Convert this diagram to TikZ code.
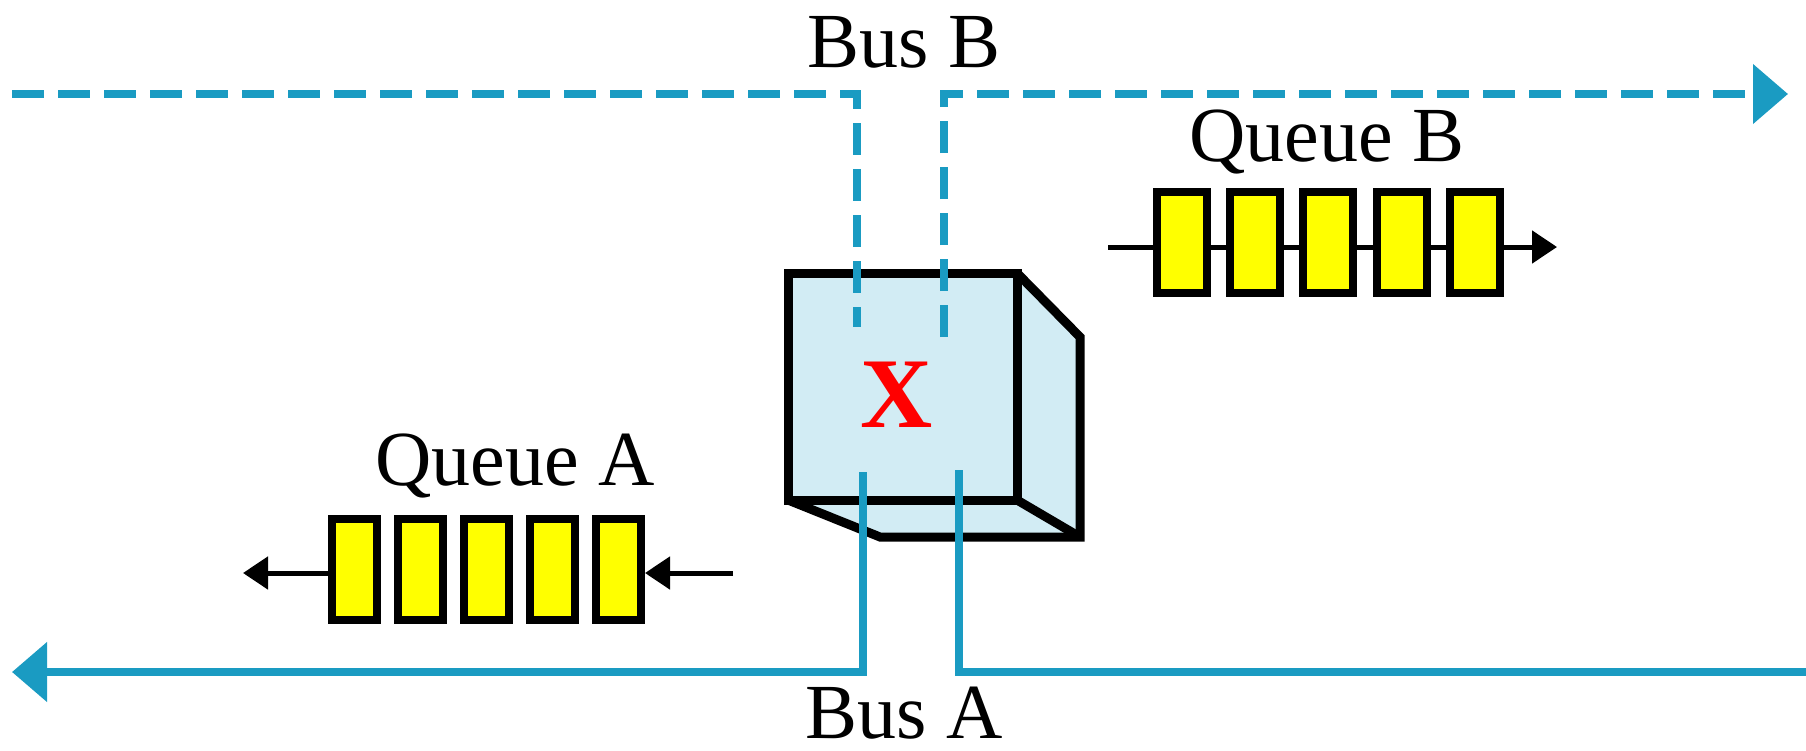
\documentclass[tikz,border=0pt]{standalone}
\usepackage{fontspec}
\setmainfont{Liberation Serif}
\usetikzlibrary{arrows.meta}
\definecolor{busblue}{HTML}{1A9BC2}
\definecolor{cubefill}{HTML}{D2ECF4}
\definecolor{qyellow}{HTML}{FFFF00}
\tikzset{
  lbl/.style={font=\fontsize{78}{86}\selectfont, inner sep=0pt},
  qbox/.style={draw=black, line width=8pt, fill=qyellow, inner sep=0pt, minimum height=101pt},
  qboxB/.style={qbox, minimum width=50pt},
  qboxA/.style={qbox, minimum width=45pt},
  busline/.style={draw=busblue, line width=8pt},
  busdash/.style={busline, dash pattern=on 32pt off 14pt},
  bushead/.style={-{Triangle[length=35pt,width=58pt]}},
  qline/.style={draw=black, line width=5pt},
  qhead/.style={-{Triangle[length=25pt,width=32pt]}},
  cubeedge/.style={draw=black, line width=9pt, line join=miter},
}
\begin{document}
\begin{tikzpicture}[x=1pt,y=-1pt]
\useasboundingbox (0,0) rectangle (1806,750);
% cube
\coordinate (c1) at (788,273);
\coordinate (c2) at (1017,273);
\coordinate (c3) at (1017,500);
\coordinate (c4) at (788,500);
\coordinate (c5) at (1080,337);
\coordinate (c6) at (1080,537);
\coordinate (c7) at (880,537);
\fill[cubefill] (c1) -- (c2) -- (c5) -- (c6) -- (c7) -- (c4) -- cycle;
\draw[cubeedge] (c1) -- (c2) -- (c3) -- (c4) -- cycle;
\draw[cubeedge] (c2) -- (c5) -- (c6) -- (c7) -- (c4);
\draw[cubeedge] (c3) -- (c6);
\node[text=red, font=\fontsize{100}{110}\selectfont\bfseries, inner sep=0pt] (x) at (897,395) {X};
% labels
\node[lbl] (busB) at (904,42) {Bus B};
\node[lbl] (busA) at (904,713) {Bus A};
\node[lbl] (qBlabel) at (1327,142) {Queue B};
\node[lbl] (qAlabel) at (515,466) {Queue A};
% Bus B (dashed)
\coordinate (bBstart) at (12,94);
\coordinate (bBc1) at (857,94);
\coordinate (bBin1) at (857,327);
\coordinate (bBin2) at (944,337);
\coordinate (bBc2) at (944,94);
\coordinate (bBend) at (1788,94);
\draw[busdash] (bBstart) -- (bBc1) -- (bBin1);
\draw[busdash, bushead] (bBin2) -- (bBc2) -- (bBend);
% Bus A (solid)
\coordinate (bAin1) at (863,472);
\coordinate (bAc1) at (863,672);
\coordinate (bAend) at (12,672);
\coordinate (bAin2) at (959,470);
\coordinate (bAc2) at (959,672);
\coordinate (bAstart) at (1806,672);
\draw[busline, line join=miter] (bAstart) -- (bAc2) -- (bAin2);
\draw[busline, bushead, line join=miter] (bAin1) -- (bAc1) -- (bAend);
% Queue B
\coordinate (qBin) at (1108,247);
\coordinate (qBout) at (1557,247);
\draw[qline, qhead] (qBin) -- (qBout);
\foreach \i/\xx in {1/1182,2/1255,3/1328,4/1402,5/1475}{
  \node[qboxB] (qb\i) at (\xx,242) {};
}
% Queue A
\coordinate (qAin) at (733,573);
\coordinate (qAout) at (243,573);
\foreach \i/\xx in {1/354.5,2/420.5,3/486.5,4/552.5,5/618.5}{
  \node[qboxA] (qa\i) at (\xx,569.5) {};
}
\draw[qline, qhead] (qAin) -- (qa5.east |- qAin);
\draw[qline, qhead] (qa1.west |- qAout) -- (qAout);
\end{tikzpicture}
\end{document}
